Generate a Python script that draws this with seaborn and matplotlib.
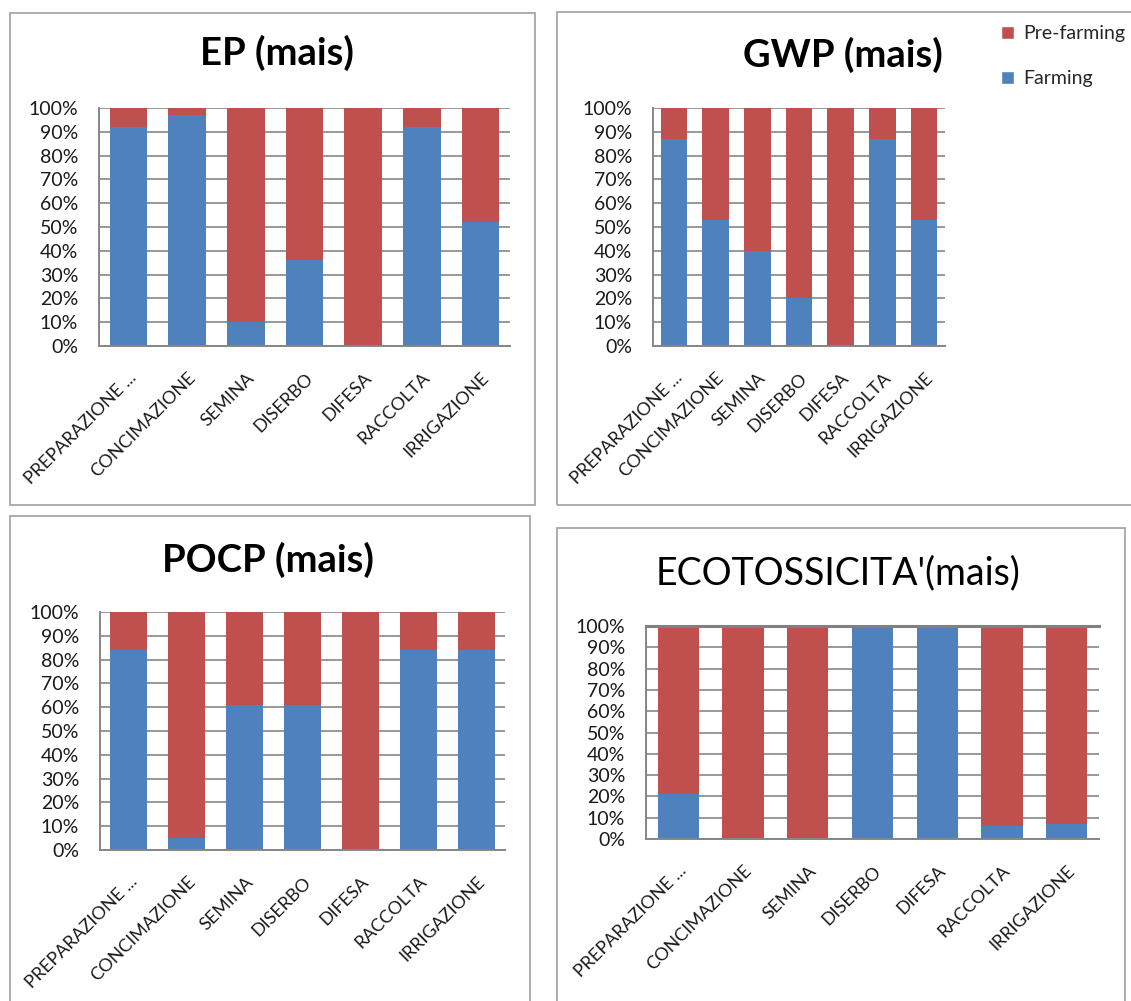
import numpy as np
import pandas as pd
import seaborn as sns
import matplotlib.pyplot as plt
from matplotlib.patches import Rectangle, Patch

sns.set_theme(style="white")
plt.rcParams['font.family'] = ['Lato', 'DejaVu Sans']

categories = ["PREPARAZIONE ...", "CONCIMAZIONE", "SEMINA", "DISERBO",
              "DIFESA", "RACCOLTA", "IRRIGAZIONE"]

# share (%) of each phase, Farming vs Pre-farming
ep_farming = [92, 97, 10, 36, 0, 92, 52]
ep_prefarming = [8, 3, 90, 64, 100, 8, 48]
gwp_farming = [87, 53, 40, 20, 0, 87, 53]
gwp_prefarming = [13, 47, 60, 80, 100, 13, 47]
pocp_farming = [84, 5, 61, 61, 0, 84, 84]
pocp_prefarming = [16, 95, 39, 39, 100, 16, 16]
eco_farming = [21, 0, 0, 100, 100, 6, 7]
eco_prefarming = [79, 100, 100, 0, 0, 94, 93]

titles = ["EP (mais)", "GWP (mais)", "POCP (mais)", "ECOTOSSICITA'(mais)"]
yticks = list(range(0, 101, 10))
ytick_labels = [f"{v}%" for v in yticks]

BLUE = "#4F81BD"
RED = "#C0504D"
GRID = "#868686"

W, H = 1131, 1001
fig = plt.figure(figsize=(W / 100, H / 100), dpi=100)
fig.patch.set_facecolor("white")

def px_axes(x0, y0, x1, y1):
    return fig.add_axes([x0 / W, 1 - y1 / H, (x1 - x0) / W, (y1 - y0) / H])

def px_text(x, y, s, **kw):
    fig.text(x / W, 1 - y / H, s, ha="center", va="center", **kw)

# chart frames
frames = [(10, 13, 535, 505), (557, 12, 1145, 505),
          (10, 516, 530, 1015), (557, 528, 1125, 1015)]
for x0, y0, x1, y1 in frames:
    fig.add_artist(Rectangle((x0 / W, 1 - y1 / H), (x1 - x0) / W, (y1 - y0) / H,
                             transform=fig.transFigure, fill=False,
                             edgecolor="#A6A6A6", linewidth=1.3))

panels = [
    (ep_farming, ep_prefarming, (99, 108, 510, 346), (277, 53), "bold", 27.5),
    (gwp_farming, gwp_prefarming, (653, 108, 945, 346), (843, 55), "bold", 27.5),
    (pocp_farming, pocp_prefarming, (100, 612, 505, 850), (268, 560), "bold", 27.5),
    (eco_farming, eco_prefarming, (646, 626, 1099, 839), (838, 573), "normal", 27),
]

for i, (farm, pre, box, tpos, weight, tsize) in enumerate(panels):
    ax = px_axes(*box)
    df = pd.DataFrame({"fase": categories, "Farming": farm, "Pre-farming": pre})
    df["total"] = df["Farming"] + df["Pre-farming"]
    sns.barplot(data=df, x="fase", y="total", color=RED, saturation=1,
                width=0.64, linewidth=0, ax=ax, zorder=3)
    sns.barplot(data=df, x="fase", y="Farming", color=BLUE, saturation=1,
                width=0.64, linewidth=0, ax=ax, zorder=4)
    ax.set_xlim(-0.5, len(categories) - 0.5)
    ax.set_ylim(0, 100)
    ax.set_yticks(yticks)
    ax.set_yticklabels(ytick_labels, fontsize=14, color="#1a1a1a")
    ax.set_xticks(range(len(categories)))
    ax.set_xticklabels(categories, rotation=45, ha="right",
                       rotation_mode="anchor", fontsize=13, color="#1a1a1a")
    ax.set_xlabel("")
    ax.set_ylabel("")
    ax.yaxis.grid(True, color=GRID, linewidth=1.2, zorder=0)
    ax.set_axisbelow(True)
    ax.spines["right"].set_visible(False)
    if i == 3:
        ax.spines["top"].set_color("#808080")
        ax.spines["top"].set_linewidth(2.2)
        ax.spines["top"].set_zorder(6)
    else:
        ax.spines["top"].set_visible(False)
    for s in ["left", "bottom"]:
        ax.spines[s].set_color(GRID)
        ax.spines[s].set_linewidth(1.4)
        ax.spines[s].set_zorder(6)
    ax.tick_params(axis="y", length=0, pad=15)
    ax.tick_params(axis="x", length=0, pad=17)
    px_text(tpos[0], tpos[1], titles[i], fontsize=tsize, fontweight=weight,
            color="black")

handles = [Patch(facecolor=RED, label="Pre-farming"),
           Patch(facecolor=BLUE, label="Farming")]
fig.legend(handles=handles, loc="upper left",
           bbox_to_anchor=(1001 / W, 1 - 25 / H), frameon=False,
           fontsize=14, handlelength=0.68, handleheight=0.68,
           handletextpad=0.45, labelspacing=1.45, borderaxespad=0,
           borderpad=0)

fig.savefig("out.png", dpi=100, facecolor="white")
